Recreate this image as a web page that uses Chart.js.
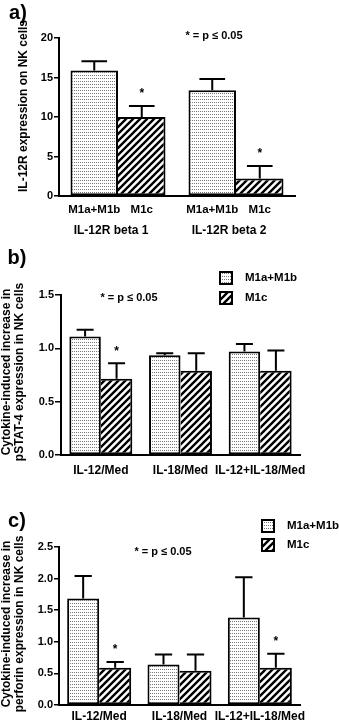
<!DOCTYPE html>
<html>
<head>
<meta charset="utf-8">
<script src="https://cdn.jsdelivr.net/npm/chart.js@4.4.0/dist/chart.umd.min.js"></script>
<style>
html, body { margin: 0; padding: 0; background: #fff; }
body { width: 339px; height: 725px; position: relative; overflow: hidden; }
canvas { position: absolute; left: 0; }
</style>
</head>
<body>
<canvas id="receptor-chart-canvas" width="339" height="240" style="top:0px"></canvas>
<canvas id="pstat-chart-canvas" width="339" height="240" style="top:240px"></canvas>
<canvas id="perforin-chart-canvas" width="339" height="245" style="top:480px"></canvas>
<script>
const seriesNames = ['M1a+M1b', 'M1c'];

// a) IL-12R expression
const receptorLabels = ['IL-12R beta 1', 'IL-12R beta 2'];
const receptorM1ab = [15.9, 13.4];
const receptorM1abErr = [1.15, 1.4];
const receptorM1c = [10.0, 2.2];
const receptorM1cErr = [1.4, 1.6];
const receptorM1cSig = [true, true];
const receptorTicks = [0, 5, 10, 15, 20];

// b) pSTAT-4
const stimLabels = ['IL-12/Med', 'IL-18/Med', 'IL-12+IL-18/Med'];
const pstatM1ab = [1.11, 0.935, 0.97];
const pstatM1abErr = [0.065, 0.02, 0.07];
const pstatM1c = [0.715, 0.79, 0.79];
const pstatM1cErr = [0.145, 0.165, 0.19];
const pstatM1cSig = [true, false, false];
const pstatTicks = [0, 0.5, 1.0, 1.5];

// c) perforin
const perforinM1ab = [1.685, 0.64, 1.385];
const perforinM1abErr = [0.355, 0.16, 0.635];
const perforinM1c = [0.59, 0.54, 0.59];
const perforinM1cErr = [0.09, 0.26, 0.22];
const perforinM1cSig = [true, false, true];
const perforinTicks = [0, 0.5, 1.0, 1.5, 2.0, 2.5];

const FONT = '"Liberation Sans", Arial, Helvetica, sans-serif';
Chart.defaults.font.family = FONT;
Chart.defaults.font.weight = 'bold';
Chart.defaults.color = '#000';

let makeDots = () => {
    const c = document.createElement('canvas');
    c.width = 2; c.height = 3;
    const g = c.getContext('2d');
    g.fillStyle = '#fff';
    g.fillRect(0, 0, 2, 3);
    g.fillStyle = '#777';
    g.fillRect(0, 0, 1, 1);
    return g.createPattern(c, 'repeat');
}

let makeHatch = () => {
    const s = 7;
    const c = document.createElement('canvas');
    c.width = s; c.height = s;
    const g = c.getContext('2d');
    g.fillStyle = '#fff';
    g.fillRect(0, 0, s, s);
    g.strokeStyle = '#000';
    g.lineWidth = 2.4;
    g.beginPath();
    g.moveTo(0, s); g.lineTo(s, 0);
    g.moveTo(-2, 2); g.lineTo(2, -2);
    g.moveTo(s - 2, s + 2); g.lineTo(s + 2, s - 2);
    g.stroke();
    return g.createPattern(c, 'repeat');
}

const dotPattern = makeDots();
const hatchPattern = makeHatch();

const errorBars = {
    id: 'errorBars',
    afterDatasetsDraw(chart) {
        const ctx = chart.ctx;
        const yScale = chart.scales.y;
        ctx.save();
        ctx.strokeStyle = '#000';
        ctx.fillStyle = '#000';
        ctx.lineWidth = 2;
        ctx.font = 'bold 12px ' + FONT;
        ctx.textAlign = 'center';
        ctx.textBaseline = 'middle';
        chart.data.datasets.forEach((ds, i) => {
            chart.getDatasetMeta(i).data.forEach((bar, j) => {
                const top = yScale.getPixelForValue(ds.data[j] + ds.errors[j]);
                const half = bar.width * 0.27;
                ctx.beginPath();
                ctx.moveTo(bar.x, bar.y);
                ctx.lineTo(bar.x, top);
                ctx.moveTo(bar.x - half, top);
                ctx.lineTo(bar.x + half, top);
                ctx.stroke();
                if (ds.significant && ds.significant[j]) {
                    ctx.fillText('*', bar.x, top - 12);
                }
            });
        });
        ctx.restore();
    }
};

const panelText = {
    id: 'panelText',
    afterDraw(chart, args, opts) {
        const ctx = chart.ctx;
        ctx.save();
        ctx.fillStyle = '#000';
        ctx.textAlign = 'center';
        ctx.textBaseline = 'middle';

        ctx.font = 'bold 20px ' + FONT;
        ctx.fillText(opts.letter, opts.letterX, opts.letterY);

        ctx.font = 'bold 11px ' + FONT;
        ctx.fillText('* = p \u2264 0.05', opts.noteX, opts.noteY);

        ctx.save();
        ctx.translate(opts.titleX, opts.titleY);
        ctx.rotate(-Math.PI / 2);
        ctx.font = 'bold 12px ' + FONT;
        opts.title.forEach((line, k) => {
            ctx.fillText(line, 0, (k - (opts.title.length - 1) / 2) * 13);
        });
        ctx.restore();

        if (opts.barLabels) {
            ctx.font = 'bold 11.5px ' + FONT;
            chart.data.datasets.forEach((ds, i) => {
                chart.getDatasetMeta(i).data.forEach(bar => {
                    ctx.fillText(ds.label, bar.x, chart.chartArea.bottom + opts.barLabelGap);
                });
            });
        }

        if (opts.legend) {
            ctx.font = 'bold 11.5px ' + FONT;
            ctx.textAlign = 'left';
            chart.data.datasets.forEach((ds, i) => {
                const cy = opts.legendY + i * opts.legendGap;
                ctx.fillStyle = ds.backgroundColor;
                ctx.fillRect(opts.legendX, cy - 6, 12, 12);
                ctx.strokeStyle = '#000';
                ctx.lineWidth = 2;
                ctx.strokeRect(opts.legendX, cy - 6, 12, 12);
                ctx.fillStyle = '#000';
                ctx.fillText(ds.label, opts.legendX + 25, cy);
            });
        }
        ctx.restore();
    }
};

let makePanel = (canvasId, cfg) => {
    const ctx = document.getElementById(canvasId).getContext('2d');
    return new Chart(ctx, {
        type: 'bar',
        data: {
            labels: cfg.labels,
            datasets: [{
                label: seriesNames[0],
                data: cfg.m1ab,
                errors: cfg.m1abErr,
                backgroundColor: dotPattern,
                borderColor: '#000',
                borderWidth: 2,
                borderSkipped: false,
                categoryPercentage: cfg.groupWidth,
                barPercentage: 1
            }, {
                label: seriesNames[1],
                data: cfg.m1c,
                errors: cfg.m1cErr,
                significant: cfg.m1cSig,
                backgroundColor: hatchPattern,
                borderColor: '#000',
                borderWidth: { top: 2, right: 2, bottom: 2, left: 0 },
                borderSkipped: false,
                categoryPercentage: cfg.groupWidth,
                barPercentage: 1
            }]
        },
        options: {
            responsive: false,
            animation: false,
            events: [],
            layout: { padding: cfg.padding },
            plugins: {
                legend: { display: false },
                tooltip: { enabled: false },
                panelText: cfg.text
            },
            scales: {
                x: {
                    grid: { display: false, drawTicks: false },
                    border: { color: '#000', width: 2 },
                    ticks: {
                        color: '#000',
                        padding: cfg.xPad,
                        labelOffset: cfg.xOffset || 0,
                        maxRotation: 0,
                        minRotation: 0,
                        autoSkip: false,
                        font: { size: 12, weight: 'bold' }
                    },
                    afterFit: s => { s.height = cfg.xHeight; }
                },
                y: {
                    min: 0,
                    max: cfg.ticks[cfg.ticks.length - 1],
                    afterBuildTicks: s => { s.ticks = cfg.ticks.map(v => ({ value: v })); },
                    grid: { drawOnChartArea: false, color: '#000', tickLength: cfg.tickLen, lineWidth: 1.5 },
                    border: { color: '#000', width: 2 },
                    ticks: {
                        color: '#000',
                        padding: 1,
                        font: { size: 11, weight: 'bold' },
                        callback: v => cfg.decimals ? v.toFixed(cfg.decimals) : String(v)
                    },
                    afterFit: s => { s.width = cfg.yWidth; }
                }
            }
        },
        plugins: [errorBars, panelText]
    });
}

let receptorChart = makePanel('receptor-chart-canvas', {
    labels: receptorLabels,
    m1ab: receptorM1ab, m1abErr: receptorM1abErr,
    m1c: receptorM1c, m1cErr: receptorM1cErr, m1cSig: receptorM1cSig,
    ticks: receptorTicks, decimals: 0,
    groupWidth: 0.805,
    padding: { left: 0, right: 44, top: 38, bottom: 0 },
    yWidth: 59, xHeight: 44, xPad: 27, xOffset: -7, tickLen: 5,
    text: {
        letter: 'a)', letterX: 18, letterY: 13,
        noteX: 214, noteY: 36,
        title: ['IL-12R expression on NK cells'], titleX: 24, titleY: 106,
        barLabels: true, barLabelGap: 14
    }
});

let pstatChart = makePanel('pstat-chart-canvas', {
    labels: stimLabels,
    m1ab: pstatM1ab, m1abErr: pstatM1abErr,
    m1c: pstatM1c, m1cErr: pstatM1cErr, m1cSig: pstatM1cSig,
    ticks: pstatTicks, decimals: 1,
    groupWidth: 0.79,
    padding: { left: 0, right: 39, top: 55, bottom: 0 },
    yWidth: 61, xHeight: 25, xPad: 8, tickLen: 6,
    text: {
        letter: 'b)', letterX: 17, letterY: 18,
        noteX: 129, noteY: 58,
        title: ['Cytokine-induced increase in', 'pSTAT-4 expression in NK cells'], titleX: 13, titleY: 132,
        legend: true, legendX: 220, legendY: 38, legendGap: 20
    }
});

let perforinChart = makePanel('perforin-chart-canvas', {
    labels: stimLabels,
    m1ab: perforinM1ab, m1abErr: perforinM1abErr,
    m1c: perforinM1c, m1cErr: perforinM1cErr, m1cSig: perforinM1cSig,
    ticks: perforinTicks, decimals: 1,
    groupWidth: 0.797,
    padding: { left: 0, right: 39, top: 67, bottom: 0 },
    yWidth: 59, xHeight: 20, xPad: 4.5, tickLen: 5,
    text: {
        letter: 'c)', letterX: 17, letterY: 41,
        noteX: 163, noteY: 72,
        title: ['Cytokine-induced increase in', 'perforin expression in NK cells'], titleX: 13, titleY: 144,
        legend: true, legendX: 262, legendY: 46, legendGap: 19
    }
});
</script>
</body>
</html>
